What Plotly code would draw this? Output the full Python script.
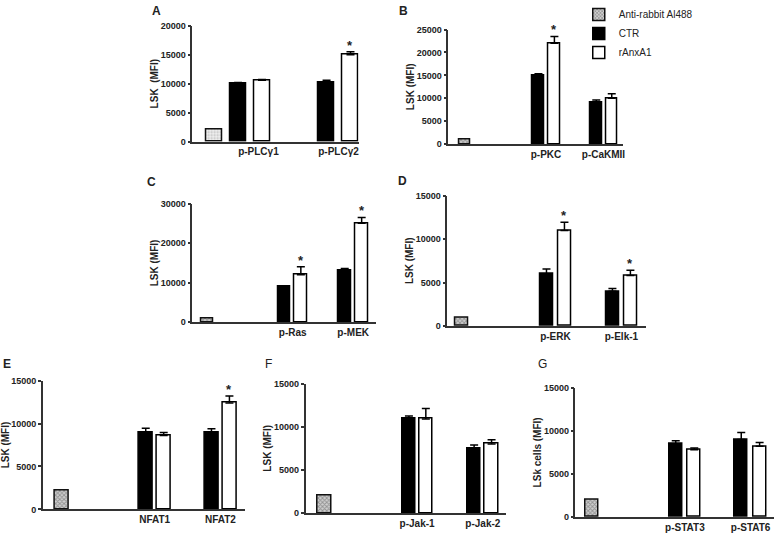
import plotly.graph_objects as go

# ---------------- data ----------------
SERIES = ["Anti-rabbit Al488", "CTR", "rAnxA1"]

A_labels = ["p-PLCγ1", "p-PLCγ2"]
A_anti = 2000
A_ctr = [10000, 10200]
A_ctr_err = [200, 400]
A_rax = [10600, 15000]
A_rax_err = [100, 500]
A_sig = [0, 1]

B_labels = ["p-PKC", "p-CaKMII"]
B_anti = 1000
B_ctr = [15000, 9000]
B_ctr_err = [350, 600]
B_rax = [22000, 10000]
B_rax_err = [1500, 1000]
B_sig = [1, 0]

C_labels = ["p-Ras", "p-MEK"]
C_anti = 1000
C_ctr = [9000, 13000]
C_ctr_err = [200, 600]
C_rax = [12000, 25000]
C_rax_err = [2000, 1500]
C_sig = [1, 1]

D_labels = ["p-ERK", "p-Elk-1"]
D_anti = 1000
D_ctr = [6000, 4000]
D_ctr_err = [550, 300]
D_rax = [11000, 5800]
D_rax_err = [950, 600]
D_sig = [1, 1]

E_labels = ["NFAT1", "NFAT2"]
E_anti = 2200
E_ctr = [9000, 9000]
E_ctr_err = [450, 400]
E_rax = [8600, 12400]
E_rax_err = [350, 800]
E_sig = [0, 1]

F_labels = ["p-Jak-1", "p-Jak-2"]
F_anti = 2000
F_ctr = [11000, 7500]
F_ctr_err = [250, 380]
F_rax = [10900, 8000]
F_rax_err = [1200, 500]
F_sig = [0, 0]

G_labels = ["p-STAT3", "p-STAT6"]
G_anti = 2000
G_ctr = [8500, 9000]
G_ctr_err = [350, 800]
G_rax = [7800, 8200]
G_rax_err = [200, 450]
G_sig = [0, 0]

# ---------------- layout config (positions / styles) ----------------
W, H = 778, 537
FONT = "Arial, 'Liberation Sans', Helvetica, sans-serif"
TXT = "#222222"
AX = "#333333"

panels = [
    dict(letter="A", lw="bold", lpos=(157, 6), ytitle="LSK\u00a0\u00a0(MFI)", ymax=20000, dtick=5000,
         xpx=(193, 360), ypx=(21, 139.3), xr=(-0.917, 6.04), slots=(0, [1, 4.7], [2, 5.7]), lab=[1.85, 5.2],
         bw=0.67, light=True,
         data=(A_labels, A_anti, A_ctr, A_ctr_err, A_rax, A_rax_err, A_sig)),
    dict(letter="B", lw="bold", lpos=(405, 6), ytitle="LSK (MFI)", ymax=25000, dtick=5000,
         xpx=(450, 625), ypx=(25, 141.7), xr=(-1.03, 9.9), slots=(0, [4.625, 8.25], [5.625, 9.22]), lab=[5.1, 8.7],
         bw=0.72, light=False,
         data=(B_labels, B_anti, B_ctr, B_ctr_err, B_rax, B_rax_err, B_sig)),
    dict(letter="C", lw="bold", lpos=(152, 180), ytitle="LSK (MFI)", ymax=30000, dtick=10000,
         xpx=(193, 377), ypx=(202.3, 323.3), xr=(-0.88, 9.94), slots=(0, [4.56, 8.12], [5.53, 9.12]), lab=[5.05, 8.62],
         bw=0.74, light=False,
         data=(C_labels, C_anti, C_ctr, C_ctr_err, C_rax, C_rax_err, C_sig)),
    dict(letter="D", lw="bold", lpos=(404, 179), ytitle="LSK (MFI)", ymax=15000, dtick=5000,
         xpx=(449, 648), ypx=(194.3, 327), xr=(-0.83, 10.2), slots=(0, [4.69, 8.36], [5.69, 9.36]), lab=[5.19, 8.86],
         bw=0.72, light=False,
         data=(D_labels, D_anti, D_ctr, D_ctr_err, D_rax, D_rax_err, D_sig)),
    dict(letter="E", lw="bold", lpos=(7, 366), ytitle="LSK (MFI)", ymax=15000, dtick=5000,
         xpx=(43, 246), ypx=(382.7, 514), xr=(-1.06, 10.2), slots=(0, [4.67, 8.33], [5.67, 9.33]), lab=[5.17, 8.83],
         bw=0.78, light=False,
         data=(E_labels, E_anti, E_ctr, E_ctr_err, E_rax, E_rax_err, E_sig)),
    dict(letter="F", lw="normal", lpos=(270, 366), ytitle="LSK (MFI)", ymax=15000, dtick=5000,
         xpx=(306.7, 508), ypx=(385.7, 517.7), xr=(-1.1, 10.4), slots=(0, [4.83, 8.57], [5.8, 9.57]), lab=[5.3, 9.07],
         bw=0.77, light=False,
         data=(F_labels, F_anti, F_ctr, F_ctr_err, F_rax, F_rax_err, F_sig)),
    dict(letter="G", lw="normal", lpos=(545, 366), ytitle="LSk cells (MFI)", ymax=15000, dtick=5000,
         xpx=(577.7, 777), ypx=(390, 521.7), xr=(-0.93, 10.1), slots=(0, [4.64, 8.28], [5.67, 9.3]), lab=[5.15, 8.8],
         bw=0.72, light=False,
         data=(G_labels, G_anti, G_ctr, G_ctr_err, G_rax, G_rax_err, G_sig)),
]

fig = go.Figure()
annotations = []
layout_axes = {}

for i, p in enumerate(panels, start=1):
    labels, anti, ctr, ctr_err, rax, rax_err, sig = p["data"]
    xa = "x" if i == 1 else f"x{i}"
    ya = "y" if i == 1 else f"y{i}"
    legend_on = (p["letter"] == "B")
    anti_x, ctr_x, rax_x = p["slots"]
    if p["light"]:
        pat = dict(shape=".", fgcolor="#888888", bgcolor="#f2f2f2", size=3, solidity=0.4)
    else:
        pat = dict(shape="x", fgcolor="#555555", bgcolor="#cfcfcf", size=3, solidity=0.5)

    fig.add_trace(go.Bar(
        x=[anti_x], y=[anti], width=p["bw"], name=SERIES[0], xaxis=xa, yaxis=ya,
        marker=dict(color="#cfcfcf", pattern=pat, line=dict(color="#111111", width=1.5)),
        showlegend=legend_on, legendrank=1))
    fig.add_trace(go.Bar(
        x=ctr_x, y=ctr, width=p["bw"], name=SERIES[1], xaxis=xa, yaxis=ya,
        marker=dict(color="#000000", line=dict(color="#000000", width=1.5)),
        error_y=dict(type="data", array=ctr_err, arrayminus=[0] * len(ctr_err), symmetric=False,
                     color="#000000", thickness=1.5, width=4),
        showlegend=legend_on, legendrank=2))
    fig.add_trace(go.Bar(
        x=rax_x, y=rax, width=p["bw"], name=SERIES[2], xaxis=xa, yaxis=ya,
        marker=dict(color="#ffffff", line=dict(color="#000000", width=1.5)),
        error_y=dict(type="data", array=rax_err, arrayminus=[0] * len(rax_err), symmetric=False,
                     color="#000000", thickness=1.5, width=4),
        showlegend=legend_on, legendrank=3))

    for k, s in enumerate(sig):
        if s:
            annotations.append(dict(
                x=rax_x[k], y=rax[k] + rax_err[k], xref=xa, yref=ya, text="*",
                showarrow=False, yanchor="bottom", yshift=-3,
                font=dict(family=FONT, size=13, color=TXT, weight="bold")))

    annotations.append(dict(
        x=p["lpos"][0] / W, y=1 - p["lpos"][1] / H, xref="paper", yref="paper",
        text=p["letter"], showarrow=False, xanchor="center", yanchor="middle",
        font=dict(family=FONT, size=12, color=TXT, weight=p["lw"])))

    xkey = "xaxis" if i == 1 else f"xaxis{i}"
    ykey = "yaxis" if i == 1 else f"yaxis{i}"
    layout_axes[xkey] = dict(
        domain=[p["xpx"][0] / W, p["xpx"][1] / W], range=list(p["xr"]), anchor=ya,
        showline=True, linecolor=AX, linewidth=1.5, showgrid=False, zeroline=False,
        ticks="", tickvals=p["lab"], ticktext=labels,
        tickfont=dict(family=FONT, size=10, color=TXT, weight="bold"), fixedrange=True)
    layout_axes[ykey] = dict(
        domain=[1 - p["ypx"][1] / H, 1 - p["ypx"][0] / H], range=[0, p["ymax"]], anchor=xa,
        showline=True, linecolor=AX, linewidth=1.5, showgrid=False, zeroline=False,
        ticks="outside", ticklen=3, tickwidth=1.5, tickcolor=AX, dtick=p["dtick"], tick0=0,
        tickformat="d",
        tickfont=dict(family=FONT, size=9, color=TXT, weight="bold"),
        title=dict(text=p["ytitle"], standoff=0,
                   font=dict(family=FONT, size=10, color=TXT, weight="bold")),
        fixedrange=True)

fig.update_layout(
    width=W, height=H, margin=dict(l=0, r=0, t=0, b=0),
    paper_bgcolor="white", plot_bgcolor="white",
    barmode="overlay", bargap=0,
    annotations=annotations,
    legend=dict(x=581 / W, y=1 + 5 / H, xanchor="left", yanchor="top",
                font=dict(family=FONT, size=10, color=TXT), tracegroupgap=0,
                bgcolor="rgba(0,0,0,0)", itemwidth=30),
    **layout_axes,
)

fig.write_html("out.html", config={"displayModeBar": False},
               post_script="document.body.style.margin='0';")
